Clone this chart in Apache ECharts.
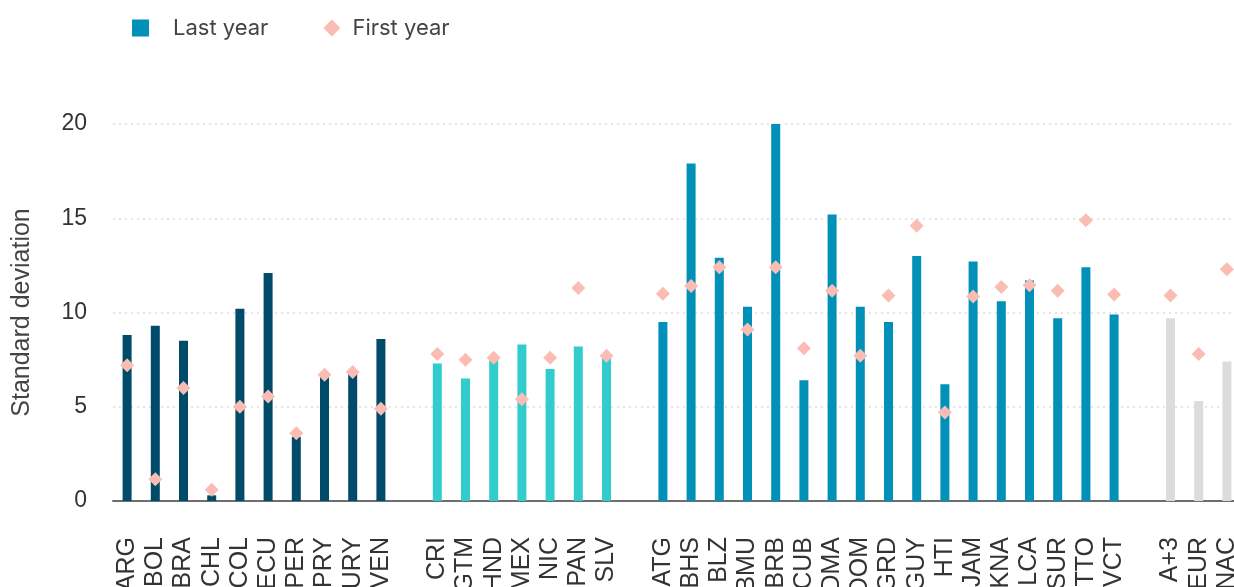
<!DOCTYPE html>
<html>
<head>
<meta charset="utf-8">
<script src="https://cdn.jsdelivr.net/npm/echarts@6/dist/echarts.min.js"></script>
<style>
  html, body { margin: 0; padding: 0; background: #ffffff; }
  #chart { width: 1234px; height: 587px; }
</style>
</head>
<body>
<div id="chart"></div>
<script>
// Country groups; an empty string leaves a blank slot between groups
const groupSouth = ['ARG', 'BOL', 'BRA', 'CHL', 'COL', 'ECU', 'PER', 'PRY', 'URY', 'VEN'];
const groupCentral = ['CRI', 'GTM', 'HND', 'MEX', 'NIC', 'PAN', 'SLV'];
const groupCaribbean = ['ATG', 'BHS', 'BLZ', 'BMU', 'BRB', 'CUB', 'DMA', 'DOM', 'GRD', 'GUY', 'HTI', 'JAM', 'KNA', 'LCA', 'SUR', 'TTO', 'VCT'];
const groupRef = ['A+3', 'EUR', 'NAC'];

// Standard deviation, last year of the sample
const lastSouth = [8.8, 9.3, 8.5, 0.3, 10.2, 12.1, 3.4, 6.6, 6.8, 8.6];
const lastCentral = [7.3, 6.5, 7.5, 8.3, 7.0, 8.2, 7.6];
const lastCaribbean = [9.5, 17.9, 12.9, 10.3, 20.0, 6.4, 15.2, 10.3, 9.5, 13.0, 6.2, 12.7, 10.6, 11.7, 9.7, 12.4, 9.9];
const lastRef = [9.7, 5.3, 7.4];

// Standard deviation, first year of the sample
const firstSouth = [7.2, 1.15, 6.0, 0.6, 5.0, 5.55, 3.6, 6.7, 6.85, 4.9];
const firstCentral = [7.8, 7.5, 7.6, 5.4, 7.6, 11.3, 7.7];
const firstCaribbean = [11.0, 11.4, 12.4, 9.1, 12.4, 8.1, 11.15, 7.7, 10.9, 14.6, 4.7, 10.85, 11.35, 11.45, 11.15, 14.9, 10.95];
const firstRef = [10.9, 7.8, 12.3];

const groupColors = ['#004a6a', '#33cccc', '#0090b8', '#dcdcdc'];
const yTicks = { min: 0, max: 20, interval: 5 };

const groups = [
  { names: groupSouth, last: lastSouth, first: firstSouth },
  { names: groupCentral, last: lastCentral, first: firstCentral },
  { names: groupCaribbean, last: lastCaribbean, first: firstCaribbean },
  { names: groupRef, last: lastRef, first: firstRef }
];

const categories = [];
const barData = [];
const markerData = [];
groups.forEach((g, gi) => {
  if (gi > 0) {
    categories.push('');
    barData.push('-');
    markerData.push('-');
  }
  g.names.forEach((n, i) => {
    categories.push(n);
    barData.push({ value: g.last[i], itemStyle: { color: groupColors[gi] } });
    markerData.push(g.first[i]);
  });
});

const chart = echarts.init(document.getElementById('chart'), null, { renderer: 'canvas' });
chart.setOption({
  animation: false,
  backgroundColor: '#ffffff',
  legend: {
    left: 127,
    top: 12,
    itemWidth: 17,
    itemHeight: 17,
    itemGap: 55,
    textStyle: {
      fontFamily: 'Inter',
      fontSize: 22,
      color: '#444444'
    },
    data: [
      { name: 'Last year', icon: 'rect', textStyle: { padding: [0, 0, 0, 19] } },
      { name: 'First year', icon: 'diamond', textStyle: { padding: [0, 0, 0, 7] } }
    ]
  },
  grid: {
    left: 113,
    top: 124,
    width: 1128,
    bottom: 86,
    containLabel: false,
    outerBoundsMode: 'none'
  },
  xAxis: {
    type: 'category',
    data: categories,
    axisTick: { show: false },
    axisLine: { lineStyle: { color: '#6e6e6e', width: 2 } },
    axisLabel: {
      interval: 0,
      rotate: 90,
      margin: 36,
      fontFamily: 'Liberation Sans',
      fontSize: 25,
      color: '#333333'
    }
  },
  yAxis: {
    type: 'value',
    min: yTicks.min,
    max: yTicks.max,
    interval: yTicks.interval,
    name: 'Standard deviation',
    nameLocation: 'middle',
    nameGap: 78,
    nameTextStyle: {
      fontFamily: 'Liberation Sans',
      fontSize: 25,
      color: '#444444'
    },
    axisLine: { show: false },
    axisTick: { show: false },
    axisLabel: {
      margin: 26,
      fontFamily: 'Liberation Sans',
      fontSize: 23,
      color: '#333333'
    },
    splitLine: {
      lineStyle: { color: '#dddddd', type: [2, 4], width: 1.5 }
    }
  },
  series: [
    {
      name: 'Last year',
      type: 'bar',
      data: barData,
      barWidth: 9,
      color: '#0090b8',
      z: 2
    },
    {
      name: 'First year',
      type: 'scatter',
      data: markerData,
      symbol: 'diamond',
      symbolSize: 14,
      color: '#fbbcb4',
      itemStyle: { color: '#fbbcb4', opacity: 1 },
      z: 3
    }
  ]
});
</script>
</body>
</html>
